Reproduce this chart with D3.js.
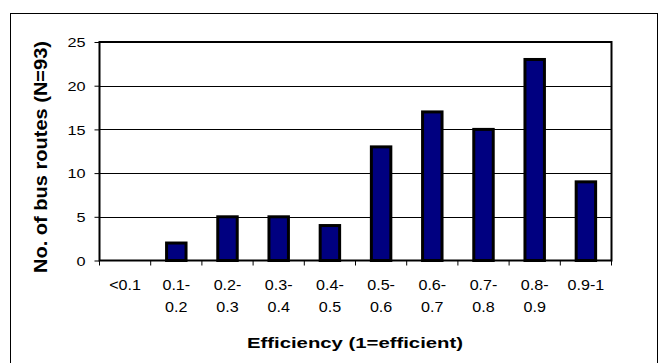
<!DOCTYPE html>
<html><head><meta charset="utf-8">
<script src="https://cdn.jsdelivr.net/npm/d3@7"></script>
<style>body{margin:0;background:#fff}svg{display:block}text{font-family:Arial,"Liberation Sans",sans-serif;fill:#000}</style>
</head><body>
<svg id="c" width="658" height="363"></svg>
<script>
const categories = ["<0.1","0.1-\n0.2","0.2-\n0.3","0.3-\n0.4","0.4-\n0.5","0.5-\n0.6","0.6-\n0.7","0.7-\n0.8","0.8-\n0.9","0.9-1"];
const counts = [0,2,5,5,4,13,17,15,23,9];
const yTicks = [0,5,10,15,20,25];
const xTitle = "Efficiency (1=efficient)";
const yTitle = "No. of bus routes (N=93)";

const svg = d3.select("#c");
const L = 99.5, R = 611.5, T = 42, B = 260.5;

function stretch(sel, f){
  sel.each(function(){
    const w = this.getComputedTextLength();
    d3.select(this).attr("textLength", w*f).attr("lengthAdjust","spacingAndGlyphs");
  });
}

svg.append("rect").attr("x",10.5).attr("y",13.5).attr("width",647).attr("height",400)
  .attr("fill","#fff").attr("stroke","#000").attr("stroke-width",1);

const x = d3.scaleBand().domain(categories).range([L,R]).paddingInner(0.62).paddingOuter(0.31);
const y = d3.scaleLinear().domain([0,25]).range([B,T]);

// gridlines
svg.append("g").selectAll("line").data(yTicks.filter(d=>d>0&&d<25)).join("line")
  .attr("x1",L).attr("x2",R).attr("y1",d=>Math.round(y(d))+0.5).attr("y2",d=>Math.round(y(d))+0.5)
  .attr("stroke","#000").attr("stroke-width",1);

// bars
svg.append("g").selectAll("rect").data(counts.map((v,i)=>({c:categories[i],v})).filter(d=>d.v>0)).join("rect")
  .attr("x",d=>x(d.c)).attr("width",x.bandwidth())
  .attr("y",d=>y(d.v)).attr("height",d=>y(0)-y(d.v))
  .attr("fill","#000080").attr("stroke","#000").attr("stroke-width",3);

// plot border
svg.append("rect").attr("x",L).attr("y",T).attr("width",R-L).attr("height",B-T)
  .attr("fill","none").attr("stroke","#000").attr("stroke-width",2);

// y axis ticks and labels
const yAxis = d3.axisLeft(y).tickValues(yTicks).tickSize(5).tickPadding(9).tickFormat(d3.format("d"));
const gy = svg.append("g").attr("transform",`translate(${L},0)`).call(yAxis);
gy.select(".domain").remove();
gy.selectAll(".tick line").attr("stroke","#000");
gy.selectAll(".tick text").attr("font-size",13).attr("font-family","Arial, 'Liberation Sans', sans-serif").attr("dy","0.36em").call(stretch,1.25);

// x axis ticks at band boundaries
const step = x.step();
const bounds = d3.range(categories.length+1).map(i=>L+i*step);
svg.append("g").selectAll("line").data(bounds).join("line")
  .attr("x1",d=>d).attr("x2",d=>d).attr("y1",B).attr("y2",B+5).attr("stroke","#000");

// x labels
const xl = svg.append("g").selectAll("text").data(categories).join("text")
  .attr("text-anchor","middle").attr("font-size",14)
  .attr("transform",d=>`translate(${x(d)+x.bandwidth()/2},0)`);
xl.selectAll("tspan").data(d=>d.split("\n")).join("tspan")
  .attr("x",0).attr("y",(d,i)=>290+i*22).text(d=>d);
xl.selectAll("tspan").call(stretch,1.15);

// x title
svg.append("text").attr("x",355).attr("y",347.5).attr("text-anchor","middle")
  .attr("font-size",14).attr("font-weight","bold").text(xTitle).call(stretch,1.45);

// y title
svg.append("text").attr("transform","translate(47,157) rotate(-90)").attr("text-anchor","middle")
  .attr("font-size",19).attr("font-weight","bold").text(yTitle)
  .call(s=>s.attr("textLength",232).attr("lengthAdjust","spacingAndGlyphs"));
</script>
</body></html>
